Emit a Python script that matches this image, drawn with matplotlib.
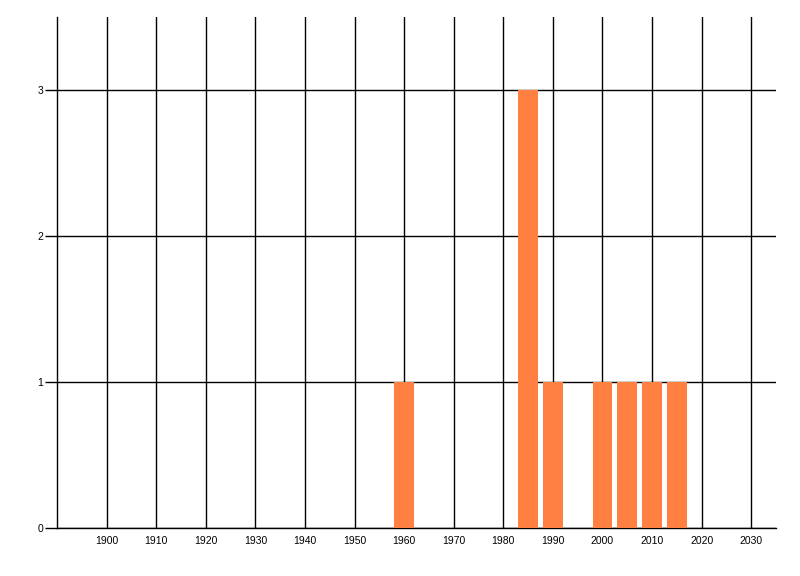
import matplotlib.pyplot as plt
import numpy as np

plt.rcParams['font.family'] = ['Liberation Sans', 'DejaVu Sans']

# bar data
years = [1960, 1985, 1990, 2000, 2005, 2010, 2015]
counts = [1, 3, 1, 1, 1, 1, 1]

x_ticks = list(range(1900, 2031, 10))
y_ticks = [0, 1, 2, 3]

fig = plt.figure(figsize=(8, 5.76), dpi=100)
ax = fig.add_axes([57 / 800, 1 - 528 / 576, 719 / 800, 511 / 576])

ax.bar(years, counts, width=4, color='#FF8040', zorder=3)

ax.set_xlim(1890, 2035)
ax.set_ylim(0, 3.5)
ax.set_xticks(x_ticks)
ax.set_yticks(y_ticks)
ax.set_xticklabels([str(t) for t in x_ticks])

ax.grid(True, color='black', linewidth=1, zorder=1)
ax.set_axisbelow(True)

for side in ['top', 'right']:
    ax.spines[side].set_visible(False)
for side in ['left', 'bottom']:
    ax.spines[side].set_linewidth(1)
    ax.spines[side].set_color('black')

ax.tick_params(axis='x', length=0, labelsize=7.5, pad=6, colors='black')
ax.tick_params(axis='y', length=9, width=1, labelsize=7.5, pad=1, colors='black')

plt.savefig('out.png', dpi=100)
